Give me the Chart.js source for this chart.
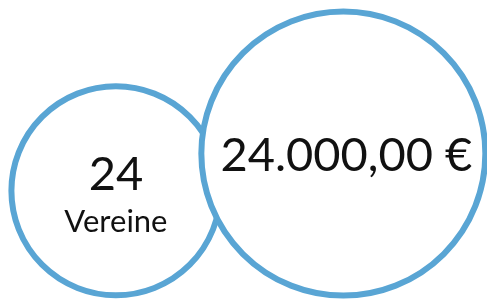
<!DOCTYPE html>
<html lang="de">
<head>
    <meta charset="UTF-8">
    <title>Vereine</title>
    <script src="https://cdn.jsdelivr.net/npm/chart.js"></script>
    <style>
        html, body { margin: 0; padding: 0; background: #fff; }
        .chart-box { width: 487px; height: 300px; }
    </style>
</head>
<body>
<div class="chart-box">
    <canvas id="graficoBolhas"></canvas>
</div>

<script>
  // Daten
  const labels   = ['24', '24.000,00 €'];
  const captions = ['Vereine', ''];
  const posX     = [23.8, 70.5];
  const posY     = [36.4, 48.8];
  const radius   = [104.5, 142];

  const bubbleData = labels.map((l, i) => ({ x: posX[i], y: posY[i], r: radius[i] }));

  // Text in die Kreise schreiben
  const bubbleText = {
    id: 'bubbleText',
    afterDatasetsDraw(chart) {
      const ctx = chart.ctx;
      const meta = chart.getDatasetMeta(0);
      ctx.save();
      ctx.fillStyle = '#111';
      ctx.textAlign = 'center';
      ctx.textBaseline = 'alphabetic';
      meta.data.forEach((pt, i) => {
        if (captions[i]) {
          ctx.font = '47px Lato';
          ctx.fillText(labels[i], pt.x, pt.y - 1);
          ctx.font = '31px Lato';
          ctx.fillText(captions[i], pt.x, pt.y + 41);
        } else {
          ctx.font = '47px Lato';
          ctx.fillText(labels[i], pt.x + 3, pt.y + 17);
        }
      });
      ctx.restore();
    }
  };

  document.addEventListener("DOMContentLoaded", () => {
    const ctx = document.getElementById('graficoBolhas').getContext('2d');
    new Chart(ctx, {
      type: 'bubble',
      data: {
        datasets: [{
          data: bubbleData,
          backgroundColor: '#ffffff',
          borderColor: '#59a5d4',
          borderWidth: 6,
          clip: false
        }]
      },
      options: {
        responsive: true,
        maintainAspectRatio: false,
        animation: false,
        events: [],
        layout: { autoPadding: false, padding: 0 },
        plugins: {
          legend: { display: false },
          tooltip: { enabled: false }
        },
        scales: {
          x: { type: 'linear', min: 0, max: 100, display: false },
          y: { type: 'linear', min: 0, max: 100, display: false }
        }
      },
      plugins: [bubbleText]
    });
  });
</script>
</body>
</html>
